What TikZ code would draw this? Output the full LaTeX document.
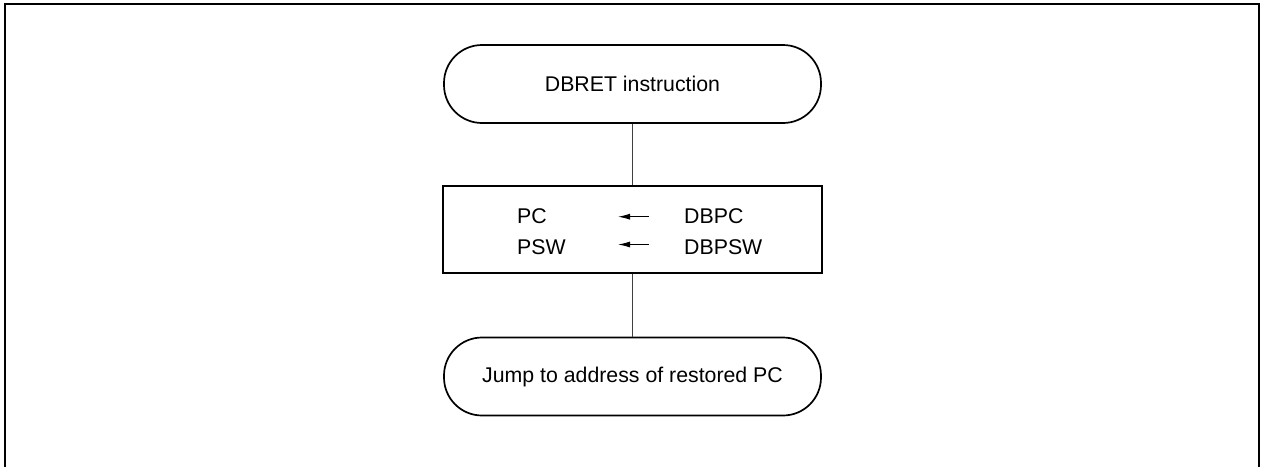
\documentclass[tikz,border=0pt]{standalone}
\usepackage{fontspec}
\setmainfont{Liberation Sans}
\usetikzlibrary{arrows.meta}
\begin{document}
\begin{tikzpicture}[x=1pt,y=-1pt,
  term/.style={draw,line width=1.7pt,rounded corners=38pt,minimum width=377pt,minimum height=78pt,inner sep=0pt,font=\fontsize{21.3}{25}\selectfont},
  procbox/.style={draw,line width=1.7pt,minimum width=379pt,minimum height=87pt,inner sep=0pt},
  lbl/.style={anchor=base west,inner sep=0pt,font=\fontsize{21.3}{25}\selectfont},
  conn/.style={line width=0.9pt,draw=black!75},
  asg/.style={line width=1pt,-{Latex[length=12pt,width=6pt]}},
  frame/.style={line width=1.8pt}]
\useasboundingbox (0,0) rectangle (1261,467);
\draw[frame] (5,467) -- (5,4) -- (1259,4) -- (1259,467);
\node[term] (top) at (632.5,84) {DBRET instruction};
\node[procbox] (mid) at (632.5,229.5) {};
\node[term] (bot) at (632.5,376.5) {Jump to address of restored PC};
\node[lbl] (pc) at (517,223) {PC};
\node[lbl] (dbpc) at (684,223) {DBPC};
\node[lbl] (psw) at (517,254) {PSW};
\node[lbl] (dbpsw) at (684,254) {DBPSW};
\coordinate (a1s) at (649,216.7);
\coordinate (a1e) at (618,216.7);
\coordinate (a2s) at (649,244.5);
\coordinate (a2e) at (618,244.5);
\draw[asg] (a1s) -- (a1e);
\draw[asg] (a2s) -- (a2e);
\draw[conn] (top.south) -- (mid.north);
\draw[conn] (mid.south) -- (bot.north);
\end{tikzpicture}
\end{document}
